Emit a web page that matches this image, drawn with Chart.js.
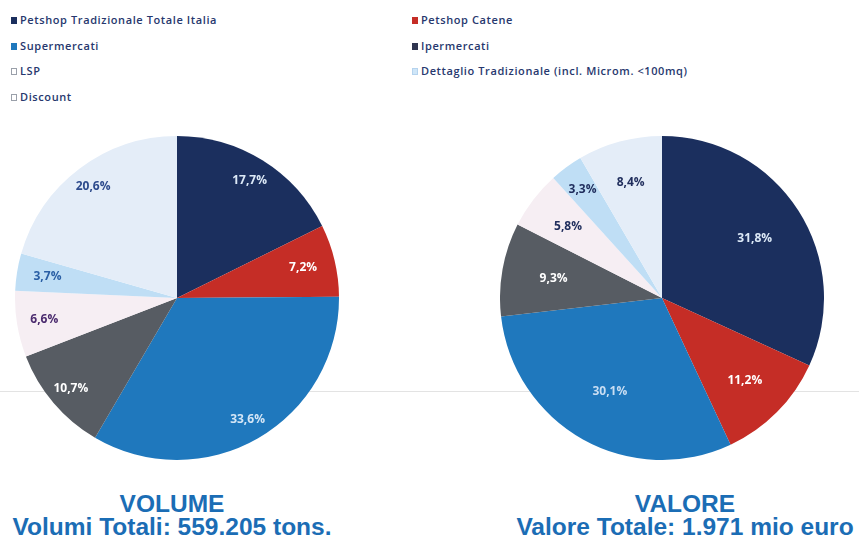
<!DOCTYPE html>
<html lang="it">
<head>
<meta charset="UTF-8">
<title>Volume e Valore</title>
<script src="https://cdn.jsdelivr.net/npm/chart.js"></script>
<style>
  body {
    margin: 0;
    width: 859px;
    height: 544px;
    background: #ffffff;
    position: relative;
    overflow: hidden;
    font-family: "Open Sans", sans-serif;
  }
  .linha {
    position: absolute;
    left: 0;
    top: 391px;
    width: 859px;
    height: 1px;
    background: #e3e3e3;
  }
  .item {
    position: absolute;
    font-size: 11px;
    font-weight: 600;
    letter-spacing: 0.6px;
    line-height: 14px;
    color: #27386e;
    white-space: nowrap;
  }
  .quad {
    display: inline-block;
    width: 6px;
    height: 7px;
    margin-right: 3px;
    box-sizing: border-box;
  }
  .pizza {
    position: absolute;
    top: 136px;
    width: 324px;
    height: 324px;
  }
  .titulo {
    position: absolute;
    top: 492px;
    width: 400px;
    text-align: center;
    font-family: "Liberation Sans", Arial, sans-serif;
    font-weight: bold;
    font-size: 24.5px;
    line-height: 23px;
    color: #1b6db5;
    white-space: nowrap;
  }
</style>
</head>
<body>

<div class="linha"></div>
<div id="legenda"></div>

<div class="pizza" style="left:15px"><canvas id="graficoVolume"></canvas></div>
<div class="pizza" style="left:500px"><canvas id="graficoValore"></canvas></div>

<div class="titulo" style="left:-28px">VOLUME<br>Volumi Totali: 559.205 tons.</div>
<div class="titulo" style="left:485px">VALORE<br>Valore Totale: 1.971 mio euro</div>

<script>
// dados (% por canale)
const categorias = [
    'Petshop Tradizionale Totale Italia',
    'Petshop Catene',
    'Supermercati',
    'Ipermercati',
    'LSP',
    'Dettaglio Tradizionale (incl. Microm. <100mq)',
    'Discount'
];
const valoresVolume = [17.7, 7.2, 33.6, 10.7, 6.6, 3.7, 20.6];
const valoresValore = [31.8, 11.2, 30.1, 9.3, 5.8, 3.3, 8.4];

const coresFatias = ['#1b2f5e', '#c52d26', '#1f78bd', '#575c63', '#f6eef3', '#bfdef5', '#e4edf8'];
const coresQuadrado = ['#1b2f5e', '#c52d26', '#1f78bd', '#2f3550', '#ffffff', '#cfe6f8', '#ffffff'];
const bordasQuadrado = ['#1b2f5e', '#c52d26', '#1f78bd', '#2f3550', '#9aa0aa', '#b5d3ee', '#9aa0aa'];

const coresRotuloVolume = ['#dce9f7', '#ffffff', '#d5e6f6', '#ffffff', '#4b2b6e', '#2a5fa5', '#2c4a8c'];
const coresRotuloValore = ['#dce9f7', '#ffffff', '#c9def3', '#ffffff', '#1f2d5c', '#1f2d5c', '#1f2d5c'];

// distancia do rotulo ao centro (fracao do raio), fatia por fatia
const raiosVolume = [0.85, 0.80, 0.87, 0.86, 0.83, 0.81, 0.86];
const raiosValore = [0.68, 0.72, 0.66, 0.68, 0.73, 0.83, 0.74];

// legenda em duas colunas
const colunasX = [11, 412];
const linhasY = [13, 38.5, 64, 89.5];
const legenda = document.getElementById('legenda');
categorias.forEach((nome, i) => {
    const col = i % 2;
    const lin = Math.floor(i / 2);
    legenda.innerHTML += `
        <div class="item" style="left:${colunasX[col]}px; top:${linhasY[lin]}px">
            <span class="quad" style="background:${coresQuadrado[i]}; border:1px solid ${bordasQuadrado[i]}"></span>${nome.replace('<', '&lt;')}
        </div>`;
});

function formatar(v) {
    return v.toFixed(1).replace('.', ',') + '%';
}

const pluginRotulos = {
    id: 'rotulos',
    afterDatasetsDraw(chart, args, opts) {
        const ctx = chart.ctx;
        const meta = chart.getDatasetMeta(0);
        const dados = chart.data.datasets[0].data;
        ctx.save();
        ctx.font = 'bold 12px "Open Sans"';
        ctx.textAlign = 'center';
        ctx.textBaseline = 'middle';
        meta.data.forEach((arco, i) => {
            const meio = (arco.startAngle + arco.endAngle) / 2;
            const r = arco.outerRadius * opts.raios[i];
            ctx.fillStyle = opts.cores[i];
            ctx.fillText(formatar(dados[i]), arco.x + Math.cos(meio) * r, arco.y + Math.sin(meio) * r);
        });
        ctx.restore();
    }
};

function criarPizza(id, valores, coresRotulo, raios) {
    new Chart(document.getElementById(id), {
        type: 'pie',
        data: {
            labels: categorias,
            datasets: [{
                data: valores,
                backgroundColor: coresFatias,
                borderWidth: 0,
                hoverOffset: 0
            }]
        },
        options: {
            responsive: true,
            maintainAspectRatio: false,
            animation: false,
            layout: { padding: 0 },
            plugins: {
                legend: { display: false },
                tooltip: { enabled: false },
                rotulos: { raios: raios, cores: coresRotulo }
            }
        },
        plugins: [pluginRotulos]
    });
}

criarPizza('graficoVolume', valoresVolume, coresRotuloVolume, raiosVolume);
criarPizza('graficoValore', valoresValore, coresRotuloValore, raiosValore);
</script>
</body>
</html>
